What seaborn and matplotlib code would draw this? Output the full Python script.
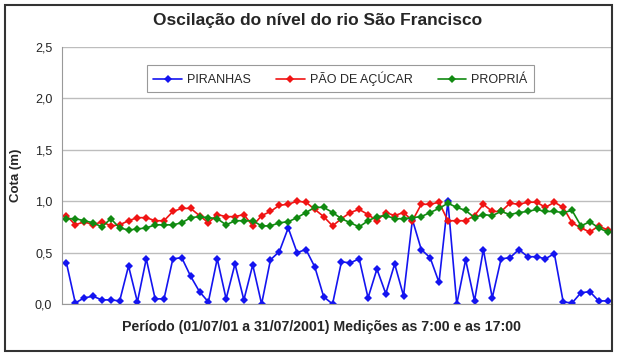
import numpy as np
import pandas as pd
import matplotlib
matplotlib.use('Agg')
import matplotlib.pyplot as plt
from matplotlib.patches import Rectangle
import seaborn as sns

# leituras 7:00 e 17:00, 01/07 a 31/07/2001 (62 medições)
piranhas = [0.40, 0.01, 0.06, 0.075, 0.04, 0.04, 0.03, 0.37, 0.02, 0.44,
            0.05, 0.05, 0.44, 0.45, 0.27, 0.12, 0.02, 0.44, 0.05, 0.39,
            0.04, 0.38, 0.00, 0.43, 0.51, 0.74, 0.50, 0.53, 0.36, 0.07,
            0.00, 0.41, 0.40, 0.44, 0.06, 0.34, 0.10, 0.39, 0.08, 0.82,
            0.53, 0.45, 0.21, 1.00, 0.00, 0.43, 0.03, 0.53, 0.06, 0.44,
            0.45, 0.53, 0.46, 0.46, 0.44, 0.49, 0.02, 0.01, 0.11, 0.12,
            0.03, 0.03]
pao_de_acucar = [0.86, 0.77, 0.80, 0.77, 0.80, 0.76, 0.77, 0.81, 0.84, 0.84,
                 0.81, 0.81, 0.90, 0.93, 0.93, 0.86, 0.79, 0.87, 0.85, 0.85,
                 0.87, 0.76, 0.86, 0.90, 0.96, 0.97, 1.00, 0.99, 0.92, 0.85,
                 0.76, 0.83, 0.89, 0.92, 0.87, 0.81, 0.89, 0.86, 0.89, 0.81,
                 0.97, 0.97, 0.99, 0.81, 0.81, 0.81, 0.86, 0.97, 0.90, 0.90,
                 0.98, 0.97, 0.99, 0.99, 0.94, 0.99, 0.94, 0.79, 0.74, 0.70,
                 0.76, 0.72]
propria = [0.83, 0.83, 0.81, 0.79, 0.75, 0.83, 0.74, 0.72, 0.73, 0.74,
           0.77, 0.77, 0.77, 0.79, 0.84, 0.85, 0.84, 0.83, 0.77, 0.81,
           0.81, 0.81, 0.76, 0.76, 0.79, 0.80, 0.84, 0.89, 0.94, 0.94,
           0.89, 0.83, 0.79, 0.75, 0.81, 0.85, 0.86, 0.83, 0.83, 0.84,
           0.85, 0.89, 0.93, 0.98, 0.94, 0.91, 0.84, 0.87, 0.86, 0.90,
           0.87, 0.89, 0.90, 0.92, 0.90, 0.90, 0.89, 0.91, 0.76, 0.80,
           0.74, 0.70]
estacoes = ['PIRANHAS', 'PÃO DE AÇÚCAR', 'PROPRIÁ']
cores = ['#1414f0', '#f01414', '#118a11']
yticks = [0.0, 0.5, 1.0, 1.5, 2.0, 2.5]
yticklabels = ['0,0', '0,5', '1,0', '1,5', '2,0', '2,5']

n = len(piranhas)
df = pd.DataFrame({
    'medicao': np.tile(np.arange(n), 3),
    'cota': piranhas + pao_de_acucar + propria,
    'estacao': np.repeat(estacoes, n),
})

sns.set_style('white')
plt.rcParams['font.family'] = ['Liberation Sans', 'DejaVu Sans']

fig = plt.figure(figsize=(6.19, 3.58), dpi=100)
ax = fig.add_axes([62/619, 1 - 304/358, 550/619, 257/358])

sns.lineplot(data=df, x='medicao', y='cota', hue='estacao', hue_order=estacoes,
             palette=cores, marker='D', markersize=4, markeredgewidth=0,
             linewidth=1.2, ax=ax)

ax.set_xlim(-0.5, n - 0.5)
ax.set_ylim(0, 2.5)
ax.set_xticks([])
ax.set_yticks(yticks)
ax.set_yticklabels(yticklabels, fontsize=9)
ax.tick_params(axis='y', length=4, color='#888888', direction='out', pad=3)
ax.yaxis.grid(True, color='#bdbdbd', linewidth=1.0)
ax.set_axisbelow(True)
for s in ['top', 'right']:
    ax.spines[s].set_visible(False)
ax.spines['left'].set_color('#999999')
ax.spines['bottom'].set_color('#999999')

ax.set_xlabel('')
ax.set_ylabel('Cota (m)', fontsize=9.5, fontweight='bold', labelpad=9)
fig.text(322/619, 1 - 327/358,
         'Período (01/07/01 a 31/07/2001) Medições as 7:00 e as 17:00',
         ha='center', va='center', fontsize=10.2, fontweight='bold')

handles, labels = ax.get_legend_handles_labels()
leg = ax.legend(handles, labels, ncol=3, loc='center',
                bbox_to_anchor=(0.1545, 0.817, 0.7036, 0.117), mode='expand',
                frameon=True, fancybox=False, edgecolor='#808080',
                fontsize=9, handlelength=2.3, handletextpad=0.4,
                borderpad=0.5, borderaxespad=0)
leg.get_frame().set_linewidth(0.8)

fig.text(318/619, 1 - 20.5/358, 'Oscilação do nível do rio São Francisco',
         ha='center', va='center', fontsize=12.5, fontweight='bold')

fig.patches.append(Rectangle((5/619, 7/358), 607/619, 346/358,
                             transform=fig.transFigure, fill=False,
                             edgecolor='#333333', linewidth=1.5))

fig.savefig('out.png', dpi=100)
